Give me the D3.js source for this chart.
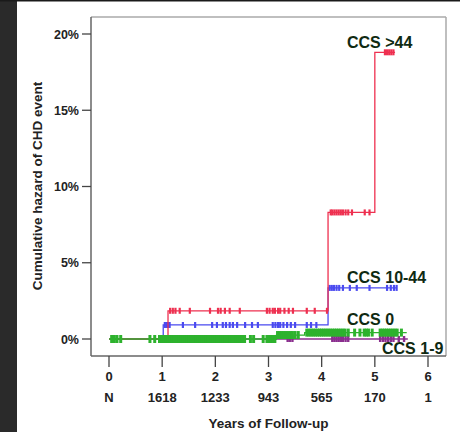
<!DOCTYPE html>
<meta charset="utf-8">
<head>
    <script type="text/javascript" src="https://cdn.jsdelivr.net/npm/d3@7"></script>
    <style>
        body { margin: 0; background: #fff; }
        text { font-family: "Liberation Sans", Arial, sans-serif; font-weight: bold; }
    </style>
    <title>Cumulative hazard of CHD event</title>
</head>
<body>
    <div id="chart"></div>
    <script type="text/javascript">

        // step curves: time of each step and hazard (%) after it
        var redTimes = [0, 1.11, 4.12, 5.0];
        var redHaz = [0, 1.85, 8.3, 18.8];
        var blueTimes = [0, 1.02, 4.12];
        var blueHaz = [0, 0.92, 3.35];
        var greenTimes = [0, 3.15, 3.68];
        var greenHaz = [0, 0.26, 0.42];
        var purpleTimes = [0];
        var purpleHaz = [0];

        // last follow-up time of each group
        var redEnd = 5.38, blueEnd = 5.41, greenEnd = 5.6, purpleEnd = 5.62;

        // censoring marks
        var redCens = [1.15, 1.2, 1.25, 1.33, 1.52, 1.9, 2.05, 2.1, 2.18, 2.27, 2.46, 2.97, 3.02, 3.08,
            3.12, 3.18, 3.22, 3.3, 3.38, 3.46, 3.72, 3.87, 4.1, 4.17, 4.2, 4.24, 4.28, 4.32, 4.36,
            4.4, 4.45, 4.5, 4.57, 4.81, 4.9, 5.19, 5.23, 5.27, 5.31, 5.35];
        var blueCens = [1.05, 1.08, 1.11, 1.14, 1.39, 1.62, 1.94, 2.03, 2.14, 2.2, 2.27, 2.33, 2.41,
            2.56, 2.69, 2.8, 3.08, 3.13, 3.18, 3.22, 3.28, 3.35, 3.42, 3.5, 3.72, 3.8, 3.9, 4.15,
            4.19, 4.23, 4.28, 4.33, 4.4, 4.53, 4.66, 4.9, 5.23, 5.3, 5.36, 5.41];
        var greenCens = [0.05, 0.1, 0.15, 0.22, 0.77, 0.86,
            0.95, 0.99, 1.03, 1.07, 1.11, 1.15, 1.19, 1.23, 1.27, 1.31, 1.35, 1.39, 1.43, 1.47,
            1.51, 1.55, 1.59, 1.63, 1.67, 1.71, 1.75, 1.79, 1.83, 1.87, 1.91, 1.95, 1.99, 2.03,
            2.07, 2.11, 2.15, 2.19, 2.23, 2.27, 2.31, 2.35, 2.39, 2.43, 2.47, 2.51, 2.55,
            2.66, 2.72, 2.9, 2.97, 3.0, 3.04, 3.08, 3.12,
            3.17, 3.21, 3.25, 3.29, 3.33, 3.37, 3.41, 3.45, 3.5, 3.56,
            3.72, 3.76, 3.8, 3.84, 3.88, 3.92, 3.96, 4.0, 4.04, 4.08, 4.12, 4.16, 4.2, 4.24,
            4.28, 4.32, 4.36, 4.4, 4.44, 4.5, 4.62, 4.72,
            4.8, 4.84, 4.88, 4.95, 5.1, 5.14, 5.18, 5.22, 5.26, 5.3, 5.34, 5.38, 5.42, 5.5];
        var purpleCens = [3.36, 3.4, 3.45, 4.2, 4.24, 4.28, 4.32, 4.36, 4.4, 4.45, 4.5,
            5.1, 5.15, 5.2, 5.25, 5.3, 5.35, 5.45, 5.55];

        var yTicks = [0, 5, 10, 15, 20];
        var xTicks = [0, 1, 2, 3, 4, 5, 6];
        var atRisk = ["N", "1618", "1233", "943", "565", "170", "1"];

        var groupLabels = ["CCS >44", "CCS 10-44", "CCS 0", "CCS 1-9"];

        var w = 460, h = 432;

        var svg = d3.select("#chart").append("svg")
                    .attr("width", w)
                    .attr("height", h);

        svg.append("rect").attr("width", w).attr("height", h).attr("fill", "#fff");
        svg.append("rect").attr("width", 17).attr("height", h).attr("fill", "#2a2a2a");
        svg.append("rect").attr("width", w).attr("height", 1.5).attr("fill", "#1a1a1a");

        var x = d3.scaleLinear().domain([0, 6]).range([109, 428]);
        var y = d3.scaleLinear().domain([0, 20]).range([339, 34]);

        // frame
        var fl = 91, fr = 446, ft = 17, fb = 356;
        svg.append("line").attr("x1", fl).attr("x2", fr).attr("y1", ft).attr("y2", ft)
            .attr("stroke", "#aaa").attr("stroke-width", 1.5);
        svg.append("line").attr("x1", fr).attr("x2", fr).attr("y1", ft).attr("y2", fb)
            .attr("stroke", "#aaa").attr("stroke-width", 1.5);
        svg.append("line").attr("x1", fl).attr("x2", fl).attr("y1", ft).attr("y2", fb)
            .attr("stroke", "#666").attr("stroke-width", 1.5);
        svg.append("line").attr("x1", fl).attr("x2", fr).attr("y1", fb).attr("y2", fb)
            .attr("stroke", "#666").attr("stroke-width", 1.5);

        // y axis ticks
        svg.selectAll(".ytick").data(yTicks).enter().append("line")
            .attr("x1", 82).attr("x2", fl)
            .attr("y1", function(d){ return y(d); }).attr("y2", function(d){ return y(d); })
            .attr("stroke", "#444").attr("stroke-width", 1.3);
        svg.selectAll(".ylab").data(yTicks).enter().append("text")
            .attr("x", 79).attr("y", function(d){ return y(d) + 4.5; })
            .attr("text-anchor", "end").attr("font-size", "12.5px").attr("fill", "#222")
            .text(function(d){ return d + "%"; });

        // x axis ticks
        svg.selectAll(".xtick").data(xTicks).enter().append("line")
            .attr("x1", function(d){ return x(d); }).attr("x2", function(d){ return x(d); })
            .attr("y1", fb).attr("y2", 367)
            .attr("stroke", "#444").attr("stroke-width", 1.3);
        svg.selectAll(".xlab").data(xTicks).enter().append("text")
            .attr("x", function(d){ return x(d); }).attr("y", 381)
            .attr("text-anchor", "middle").attr("font-size", "13px").attr("fill", "#222")
            .text(function(d){ return d; });
        svg.selectAll(".nlab").data(atRisk).enter().append("text")
            .attr("x", function(d, i){ return x(xTicks[i]); }).attr("y", 402)
            .attr("text-anchor", "middle").attr("font-size", "13px").attr("fill", "#222")
            .text(function(d){ return d; });

        svg.append("text").attr("x", x(3)).attr("y", 428)
            .attr("text-anchor", "middle").attr("font-size", "13.5px").attr("fill", "#222")
            .text("Years of Follow-up");
        svg.append("text").attr("transform", "translate(42,186) rotate(-90)")
            .attr("text-anchor", "middle").attr("font-size", "13.5px").attr("fill", "#222")
            .text("Cumulative hazard of CHD event");

        function stepAt(times, haz, t) {
            var v = haz[0];
            for (var i = 0; i < times.length; i++) {
                if (times[i] <= t) v = haz[i];
            }
            return v;
        }

        function drawGroup(times, haz, end, cens, color, markH, markW) {
            var pts = [];
            for (var i = 0; i < times.length; i++) {
                pts.push([times[i], haz[i]]);
            }
            pts.push([end, haz[haz.length - 1]]);
            var line = d3.line()
                .x(function(d){ return x(d[0]); })
                .y(function(d){ return y(d[1]); })
                .curve(d3.curveStepAfter);
            svg.append("path").datum(pts).attr("d", line)
                .attr("fill", "none").attr("stroke", color).attr("stroke-width", 1.3);
            svg.selectAll(null).data(cens).enter().append("line")
                .attr("x1", function(d){ return x(d); }).attr("x2", function(d){ return x(d); })
                .attr("y1", function(d){ return y(stepAt(times, haz, d)) - markH / 2; })
                .attr("y2", function(d){ return y(stepAt(times, haz, d)) + markH / 2; })
                .attr("stroke", color).attr("stroke-width", markW);
        }

        drawGroup(purpleTimes, purpleHaz, purpleEnd, purpleCens, "#8a2e8e", 6, 2.4);
        drawGroup(blueTimes, blueHaz, blueEnd, blueCens, "#4a4af0", 6, 2.2);
        drawGroup(redTimes, redHaz, redEnd, redCens, "#ee3050", 6, 2.2);
        drawGroup(greenTimes, greenHaz, greenEnd, greenCens, "#2db22d", 8, 3);

        // group labels
        var labelX = [347, 347, 347, 382];
        var labelY = [48, 283, 325, 354];
        svg.selectAll(".glab").data(groupLabels).enter().append("text")
            .attr("x", function(d, i){ return labelX[i]; })
            .attr("y", function(d, i){ return labelY[i]; })
            .attr("font-size", "16px").attr("fill", "#0f2a12")
            .text(function(d){ return d; });

    </script>
</body>
</html>
